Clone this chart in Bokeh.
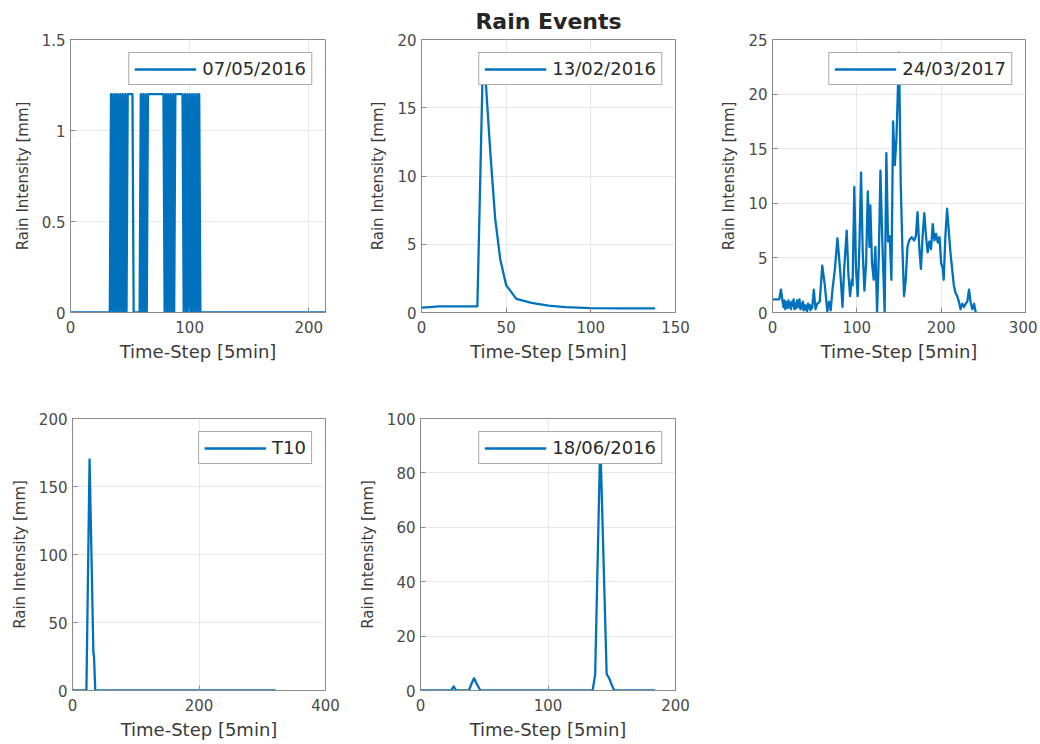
from bokeh.plotting import figure
from bokeh.layouts import column, row
from bokeh.models import FixedTicker, Range1d
from bokeh.embed import file_html
from bokeh.resources import INLINE

# ---------------- data ----------------
title_text = "Rain Events"
x_label = "Time-Step [5min]"
y_label = "Rain Intensity [mm]"

# Event 07/05/2016: time step 0, steps 33..110, last step 214
ev1_label = "07/05/2016"
ev1_x = [0] + list(range(33, 111)) + [214]
ev1_y = [0,
         0,                                                               # 33
         1.2, 0, 1.2, 0, 1.2, 0, 1.2, 0, 1.2, 0, 1.2, 0, 1.2, 0, 1.2,      # 34-48
         1.2, 1.2, 1.2, 1.2, 0,                                           # 49-53
         0, 0, 0, 0, 0,                                                   # 54-58
         1.2, 0, 1.2, 0, 1.2, 0, 1.2, 1.2,                                # 59-66
         1.2, 1.2, 1.2, 1.2, 1.2, 1.2, 1.2, 1.2, 1.2, 1.2, 1.2, 1.2,      # 67-78
         0, 1.2, 0, 1.2, 0, 1.2, 0, 1.2, 0,                               # 79-87
         1.2, 1.2, 1.2, 1.2, 1.2, 1.2, 1.2,                               # 88-94
         0, 1.2, 0, 1.2, 0, 1.2, 0, 1.2, 0, 1.2, 0, 1.2, 0, 1.2,          # 95-108
         0, 0,                                                            # 109-110
         0]

# Event 13/02/2016
ev2_label = "13/02/2016"
ev2_x = [0, 5, 10, 20, 33, 36, 38, 40.6, 43.5, 46.5, 50, 56, 65, 75, 85, 100, 120, 138]
ev2_y = [0.35, 0.4, 0.45, 0.45, 0.45, 17.0, 16.8, 11.8, 6.9, 3.9, 2.0, 1.0, 0.7, 0.5, 0.4, 0.32, 0.3, 0.3]

# Event 24/03/2017
ev3_label = "24/03/2017"
ev3_x = [0, 5, 8, 10, 12, 13, 14, 15, 16, 17, 18, 19, 20, 21, 22, 23, 24, 25, 26, 27, 28, 29, 30,
         31, 32, 33, 34, 35, 36, 37, 38, 39, 40, 41, 42, 43, 44, 45, 46, 47,
         49, 51, 53, 56, 59, 62, 65, 67, 69, 71, 74, 77, 79, 81, 83, 85, 88, 90, 92, 94, 95,
         97, 99, 101, 103, 105, 107, 109, 111, 113, 115, 116, 118, 120, 122, 124, 126, 128,
         130, 133, 135, 137, 139, 141, 143, 145, 147, 150, 152, 154, 156, 158, 160, 162, 165,
         168, 170, 172, 174, 176, 178, 180, 182, 184, 186, 188, 190, 192, 194, 196, 198, 200,
         202, 203, 205, 207, 209, 211, 213, 215, 217, 219, 221, 223, 225, 227, 229, 231, 233,
         235, 237, 239, 241, 242]
ev3_y = [1.2, 1.2, 1.2, 2.1, 1.0, 0.5, 1.1, 0.3, 1.0, 0.6, 0.4, 1.1, 0.5, 0.9, 0.3, 1.0, 0.6, 1.2, 0.3, 0.8, 0.4,
         1.1, 0.5, 0.9, 1.2, 0.3, 0.8, 0.4, 1.0, 0.2, 0.7, 0.3, 0.6, 0.1, 0.8, 0.4, 0.7, 0.2, 0.6, 0.4,
         2.1, 0.3, 0.8, 1.0, 4.3, 2.5, 0.1, 1.0, 0.2, 2.0, 4.0, 6.8, 5.0, 3.0, 0.5, 4.0, 7.5, 3.5, 1.5, 3.0, 2.5,
         11.5, 4.0, 1.5, 6.0, 12.8, 5.5, 2.0, 4.5, 11.1, 6.0, 9.8, 4.5, 3.0, 6.0, 0.0, 5.0, 13.0,
         7.0, 0.0, 14.6, 6.5, 7.0, 3.0, 17.5, 13.5, 16.0, 23.8, 12.0, 6.0, 1.5, 3.0, 6.0, 6.6, 6.9,
         6.6, 7.0, 9.2, 6.0, 4.0, 7.0, 9.1, 7.0, 5.5, 6.5, 5.8, 8.1, 6.6, 7.2, 6.4, 6.9, 4.5,
         4.0, 3.0, 7.0, 9.5, 7.5, 5.5, 4.0, 2.5, 1.8, 1.5, 1.0, 0.3, 0.8, 0.5, 0.8, 1.0, 2.1,
         0.9, 0.3, 0.8, 0.0, 0.0]

# Event T10
ev4_label = "T10"
ev4_x = [0, 22, 27, 33, 34, 36, 321]
ev4_y = [0, 0, 170, 28, 25, 0, 0]

# Event 18/06/2016
ev5_label = "18/06/2016"
ev5_x = [0, 24, 26, 28, 38, 40, 42, 44, 47, 135, 137, 141, 146, 148, 150, 152, 184]
ev5_y = [0, 0, 1.5, 0, 0, 2.5, 4.5, 2.5, 0, 0, 6, 92, 6, 4.5, 2, 0, 0]

# axis settings: (x max, x ticks, y max, y ticks, y tick labels)
ax1 = (214, [0, 100, 200], 1.5, [0, 0.5, 1, 1.5], ["0", "0.5", "1", "1.5"])
ax2 = (150, [0, 50, 100, 150], 20, [0, 5, 10, 15, 20], ["0", "5", "10", "15", "20"])
ax3 = (300, [0, 100, 200, 300], 25, [0, 5, 10, 15, 20, 25], ["0", "5", "10", "15", "20", "25"])
ax4 = (400, [0, 200, 400], 200, [0, 50, 100, 150, 200], ["0", "50", "100", "150", "200"])
ax5 = (200, [0, 100, 200], 100, [0, 20, 40, 60, 80, 100], ["0", "20", "40", "60", "80", "100"])

# ---------------- styling ----------------
FONT = "DejaVu Sans"
LINE = "#0072BD"
AXC = "#8a8a8a"
TXT = "#4a4a4a"


def make(xs, ys, label, ax, fw, fh, bl, br, bt, bb, title=None):
    xmax, xt, ymax, yt, ytl = ax
    p = figure(frame_width=fw, frame_height=fh,
               min_border_left=bl, min_border_right=br,
               min_border_top=bt, min_border_bottom=bb,
               x_range=Range1d(0, xmax), y_range=Range1d(0, ymax),
               output_backend="svg", toolbar_location=None, tools="",
               background_fill_color="white", border_fill_color="white")
    p.line(xs, ys, line_color=LINE, line_width=2.3, legend_label=label, line_join="round")
    p.xaxis.ticker = FixedTicker(ticks=xt)
    p.yaxis.ticker = FixedTicker(ticks=yt)
    p.yaxis.major_label_overrides = {t: s for t, s in zip(yt, ytl)}
    for a in (p.xaxis[0], p.yaxis[0]):
        a.major_tick_in = 5
        a.major_tick_out = 0
        a.minor_tick_line_color = None
        a.axis_line_color = AXC
        a.major_tick_line_color = AXC
        a.major_label_text_font = FONT
        a.major_label_text_font_size = "15px"
        a.major_label_text_color = TXT
        a.axis_label_text_font = FONT
        a.axis_label_text_font_style = "normal"
        a.axis_label_text_color = "#3a3a3a"
    p.xaxis.major_label_standoff = 8
    p.yaxis.major_label_standoff = 5
    p.xaxis.axis_label = x_label
    p.xaxis.axis_label_text_font_size = "18px"
    p.xaxis.axis_label_standoff = 5
    p.yaxis.axis_label = y_label
    p.yaxis.axis_label_text_font_size = "15px"
    p.yaxis.axis_label_standoff = 7
    p.grid.grid_line_color = "#e8e8e8"
    p.grid.grid_line_width = 1
    p.outline_line_color = AXC
    lg = p.legend[0]
    lg.location = "top_right"
    lg.margin = 13
    lg.padding = 5
    lg.spacing = 0
    lg.glyph_width = 62
    lg.glyph_height = 16
    lg.label_standoff = 6
    lg.label_height = 16
    lg.label_text_font = FONT
    lg.label_text_font_size = "18px"
    lg.label_text_color = "#2a2a2a"
    lg.border_line_color = "#555555"
    lg.border_line_width = 1
    lg.background_fill_color = "white"
    lg.background_fill_alpha = 1
    if title is not None:
        p.title.text = title
        p.title.align = "center"
        p.title.text_font = FONT
        p.title.text_font_size = "22px"
        p.title.text_font_style = "bold"
        p.title.text_color = "#262626"
        p.title.standoff = 12
    return p


p1 = make(ev1_x, ev1_y, ev1_label, ax1, 255, 273, 70, 22, 38, 59)
p2 = make(ev2_x, ev2_y, ev2_label, ax2, 254, 273, 74, 22, 38, 59, title=title_text)
p3 = make(ev3_x, ev3_y, ev3_label, ax3, 253, 273, 75, 12, 38, 59)
p4 = make(ev4_x, ev4_y, ev4_label, ax4, 253, 272, 72, 22, 47, 50)
p5 = make(ev5_x, ev5_y, ev5_label, ax5, 255, 272, 73, 22, 47, 50)

layout = column(row(p1, p2, p3, spacing=0), row(p4, p5, spacing=0), spacing=0)

open("out.html", "w").write(file_html(layout, INLINE))
